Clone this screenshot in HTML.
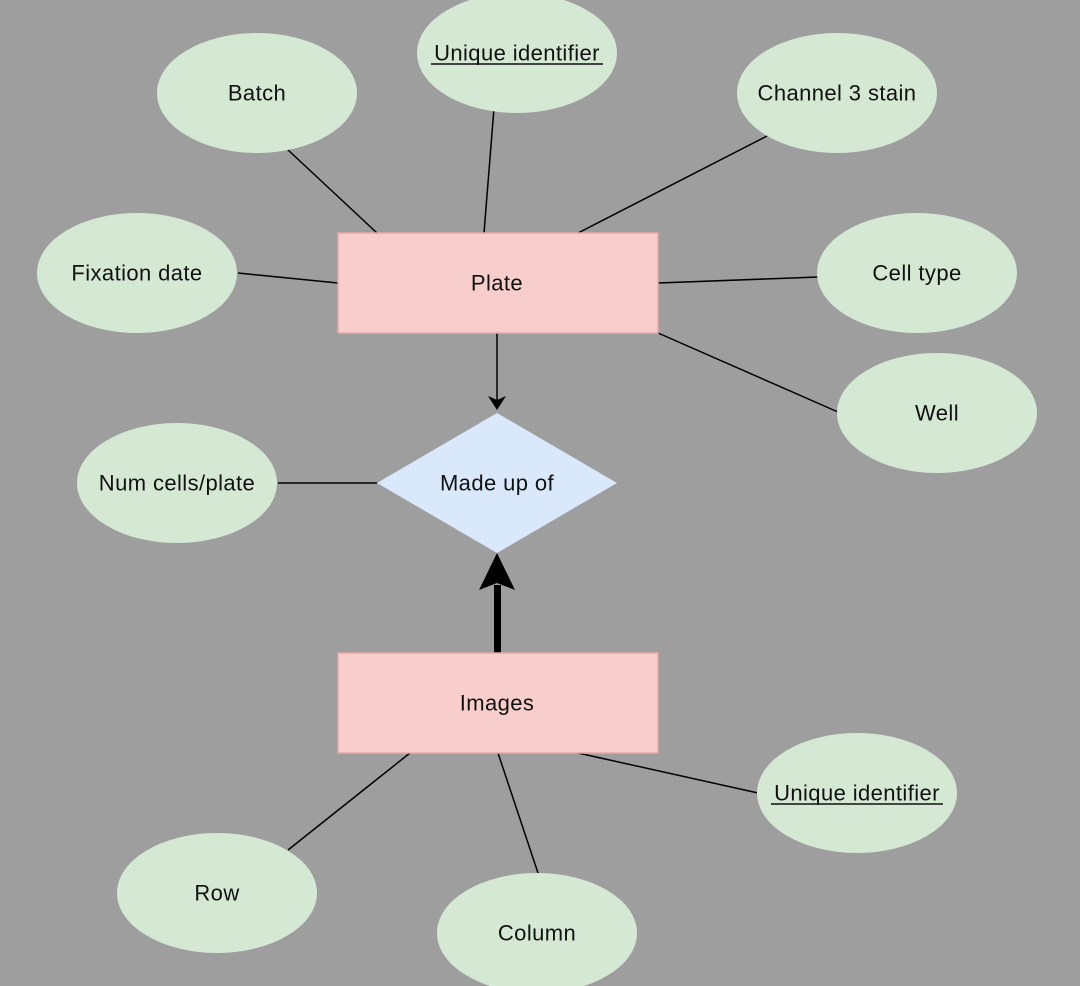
<!DOCTYPE html>
<html><head><style>
html,body{margin:0;padding:0;background:#9e9e9e;}
svg{display:block;}
text{font-family:"Liberation Sans",Arial,sans-serif;font-size:22px;letter-spacing:0.4px;fill:#111;text-anchor:middle;dominant-baseline:central;}
</style></head><body>
<svg width="1080" height="986" viewBox="0 0 1080 986">
<rect width="1080" height="986" fill="#9e9e9e"/>
<g stroke="#000" stroke-width="1.5">
<line x1="287" y1="149" x2="377" y2="233"/>
<line x1="494" y1="108" x2="484" y2="233"/>
<line x1="767" y1="136" x2="578" y2="233"/>
<line x1="238" y1="273" x2="338" y2="283"/>
<line x1="658" y1="283" x2="818" y2="277"/>
<line x1="658" y1="333" x2="838" y2="412"/>
<line x1="278" y1="483" x2="377" y2="483"/>
<line x1="410" y1="753" x2="288" y2="850"/>
<line x1="498" y1="753" x2="538" y2="873"/>
<line x1="578" y1="753" x2="758" y2="793"/>
<line x1="497" y1="333" x2="497" y2="400"/>
</g>
<path d="M488,396 L497,410 L506,396 L497,400 Z" fill="#000"/>
<rect x="494" y="585" width="7" height="68" fill="#000"/>
<path d="M479,590 L497,553 L515,590 L497,583 Z" fill="#000"/>
<g fill="#d5e8d4">
<ellipse cx="257" cy="93" rx="100" ry="60"/>
<ellipse cx="517" cy="53" rx="100" ry="60"/>
<ellipse cx="837" cy="93" rx="100" ry="60"/>
<ellipse cx="137" cy="273" rx="100" ry="60"/>
<ellipse cx="917" cy="273" rx="100" ry="60"/>
<ellipse cx="937" cy="413" rx="100" ry="60"/>
<ellipse cx="177" cy="483" rx="100" ry="60"/>
<ellipse cx="857" cy="793" rx="100" ry="60"/>
<ellipse cx="217" cy="893" rx="100" ry="60"/>
<ellipse cx="537" cy="933" rx="100" ry="60"/>
</g>
<rect x="338" y="233" width="320" height="100" fill="#f8cecc" stroke="#e6a8a6" stroke-width="1.5"/>
<rect x="338" y="653" width="320" height="100" fill="#f8cecc" stroke="#e6a8a6" stroke-width="1.5"/>
<path d="M377,483 L497,413 L617,483 L497,553 Z" fill="#dae8fc"/>
<text x="257" y="93">Batch</text>
<text x="517" y="53">Unique identifier</text>
<line x1="431" y1="64" x2="603" y2="64" stroke="#111" stroke-width="1.5"/>
<text x="837" y="93">Channel 3 stain</text>
<text x="137" y="273">Fixation date</text>
<text x="917" y="273">Cell type</text>
<text x="937" y="413">Well</text>
<text x="177" y="483">Num cells/plate</text>
<text x="857" y="793">Unique identifier</text>
<line x1="771" y1="804" x2="943" y2="804" stroke="#111" stroke-width="1.5"/>
<text x="217" y="893">Row</text>
<text x="537" y="933">Column</text>
<text x="497" y="283">Plate</text>
<text x="497" y="703">Images</text>
<text x="497" y="483">Made up of</text>
</svg>
</body></html>
